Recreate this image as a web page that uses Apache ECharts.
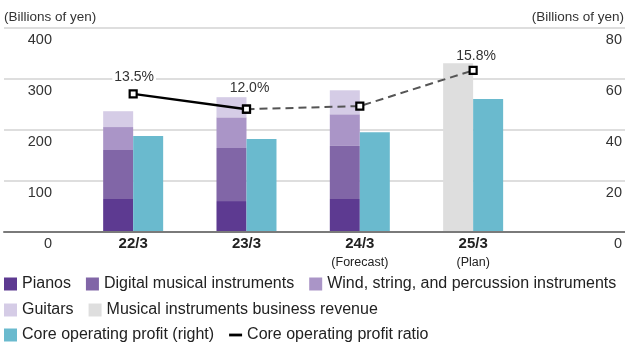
<!DOCTYPE html>
<html>
<head>
<meta charset="utf-8">
<script src="https://cdn.jsdelivr.net/npm/echarts@6/dist/echarts.min.js"></script>
<style>
html,body{margin:0;padding:0;background:#fff;}
#chart{width:625px;height:342px;}
</style>
</head>
<body>
<div id="chart"></div>
<script>
// ---- data ----
const categories = ['22/3', '23/3', '24/3', '25/3'];
const categoryNotes = ['', '', '(Forecast)', '(Plan)'];
const pianos = [64, 60, 64, '-'];
const digital = [96, 104, 104, '-'];
const wind = [45, 60, 62, '-'];
const guitars = [31, 39.5, 47, '-'];
const revenue = ['-', '-', '-', 330];
const coreProfit = [37.5, 36.3, 39, 52];
const ratioActual = [13.5, 12.0, '-', '-'];
const ratioOutlook = ['-', 12.0, 12.3, 15.8];
const ratioLabelShown = [true, true, false, true];
const leftTicks = [0, 100, 200, 300, 400];
const rightTicks = [0, 20, 40, 60, 80];
const unitLabel = '(Billions of yen)';

const FONT = '"Liberation Sans", Arial, sans-serif';
const C = {
  pianos: '#5d3a91', digital: '#8166a7', wind: '#aa95c7', guitars: '#d5cce6',
  revenue: '#dedede', profit: '#6abace'
};

const chart = echarts.init(document.getElementById('chart'), null, {renderer: 'canvas'});

const gridTop = 27.5, gridBottom = 110.3;
const labelOffsets = [[1, 0], [3, -4], [0, 0], [3, 2]];

function ratioData(arr) {
  return arr.map((v, i) => {
    if (v === '-') return v;
    return {
      value: v,
      label: {show: ratioLabelShown[i], offset: labelOffsets[i]}
    };
  });
}

const ratioLabel = {
  show: false, position: 'top', distance: 5,
  formatter: p => Number(p.value).toFixed(1) + '%',
  color: '#333', fontSize: 14, fontFamily: FONT,
  backgroundColor: '#fff', padding: [0, 2]
};

const legendBase = {
  left: 4, width: 640, padding: 0, itemWidth: 13, itemHeight: 13, itemGap: 15, icon: 'rect',
  textStyle: {fontSize: 16, color: '#222', fontFamily: FONT}
};

const option = {
  animation: false,
  backgroundColor: '#fff',
  textStyle: {fontFamily: FONT},
  grid: [
    {left: 4, right: 0, top: gridTop, bottom: gridBottom},
    {left: 76.5, right: 95.2, top: gridTop, bottom: gridBottom}
  ],
  xAxis: [
    {gridIndex: 0, type: 'category', data: [''], axisTick: {show: false},
     axisLabel: {show: false}, axisLine: {lineStyle: {color: '#7a7a7a', width: 2}}, z: 5},
    {gridIndex: 1, type: 'category', data: categories.map((c, i) => categoryNotes[i] ? c + '\n' + categoryNotes[i] : c),
     axisTick: {show: false}, axisLine: {show: false},
     axisLabel: {
       margin: 4, verticalAlign: 'top',
       formatter: v => {
         const parts = v.split('\n');
         return parts.length > 1 ? '{a|' + parts[0] + '}\n{b|' + parts[1] + '}' : '{a|' + parts[0] + '}';
       },
       rich: {
         a: {fontSize: 15, fontWeight: 'bold', color: '#222', lineHeight: 17, fontFamily: FONT},
         b: {fontSize: 12.5, color: '#222', lineHeight: 19, fontFamily: FONT}
       }
     }}
  ],
  yAxis: [
    {gridIndex: 0, type: 'value', position: 'left', min: leftTicks[0], max: leftTicks[leftTicks.length - 1],
     interval: leftTicks[1] - leftTicks[0],
     axisLine: {show: false}, axisTick: {show: false},
     splitLine: {lineStyle: {color: '#dedede', width: 2}},
     axisLabel: {inside: true, align: 'right', margin: 48, verticalAlign: 'top', padding: [5, 0, 0, 0],
                 lineHeight: 15, fontSize: 14.5, color: '#333', fontFamily: FONT}},
    {gridIndex: 0, type: 'value', position: 'right', min: rightTicks[0], max: rightTicks[rightTicks.length - 1],
     interval: rightTicks[1] - rightTicks[0],
     axisLine: {show: false}, axisTick: {show: false}, splitLine: {show: false},
     axisLabel: {inside: true, align: 'right', margin: 3, verticalAlign: 'top', padding: [5, 0, 0, 0],
                 lineHeight: 15, fontSize: 14.5, color: '#333', fontFamily: FONT}},
    {gridIndex: 1, type: 'value', min: 0, max: 400, show: false},
    {gridIndex: 1, type: 'value', min: 0, max: 80, show: false},
    {gridIndex: 1, type: 'value', min: 0, max: 20, show: false}
  ],
  legend: [
    Object.assign({}, legendBase, {top: 276,
     data: ['Pianos', 'Digital musical instruments', 'Wind, string, and percussion instruments']}),
    Object.assign({}, legendBase, {top: 302,
     data: ['Guitars', 'Musical instruments business revenue']}),
    Object.assign({}, legendBase, {top: 327,
     data: ['Core operating profit (right)',
            {name: 'Core operating profit ratio', icon: 'path://M0,0H14V3H0Z', itemStyle: {color: '#000', borderWidth: 0}}]})
  ],
  graphic: [
    {type: 'text', left: 4, top: 10, style: {text: unitLabel, font: '13.5px ' + FONT, fill: '#333'}},
    {type: 'text', right: 1, top: 10, style: {text: unitLabel, font: '13.5px ' + FONT, fill: '#333'}}
  ],
  series: [
    {name: 'Pianos', type: 'bar', xAxisIndex: 1, yAxisIndex: 2, stack: 'rev', data: pianos,
     barWidth: 30, barGap: '0%', itemStyle: {color: C.pianos}},
    {name: 'Digital musical instruments', type: 'bar', xAxisIndex: 1, yAxisIndex: 2, stack: 'rev', data: digital,
     barWidth: 30, barGap: '0%', itemStyle: {color: C.digital}},
    {name: 'Wind, string, and percussion instruments', type: 'bar', xAxisIndex: 1, yAxisIndex: 2, stack: 'rev', data: wind,
     barWidth: 30, barGap: '0%', itemStyle: {color: C.wind}},
    {name: 'Guitars', type: 'bar', xAxisIndex: 1, yAxisIndex: 2, stack: 'rev', data: guitars,
     barWidth: 30, barGap: '0%', itemStyle: {color: C.guitars}},
    {name: 'Musical instruments business revenue', type: 'bar', xAxisIndex: 1, yAxisIndex: 2, stack: 'rev', data: revenue,
     barWidth: 30, barGap: '0%', itemStyle: {color: C.revenue}},
    {name: 'Core operating profit (right)', type: 'bar', xAxisIndex: 1, yAxisIndex: 3, data: coreProfit,
     barWidth: 30, barGap: '0%', itemStyle: {color: C.profit}},
    {name: 'Core operating profit ratio', type: 'line', xAxisIndex: 1, yAxisIndex: 4, data: ratioData(ratioOutlook),
     z: 10, symbol: 'rect', symbolSize: 7, showAllSymbol: true,
     lineStyle: {color: '#555', width: 2, type: [8, 5]},
     itemStyle: {color: '#fff', borderColor: '#000', borderWidth: 2.2},
     label: ratioLabel},
    {name: 'Core operating profit ratio', type: 'line', xAxisIndex: 1, yAxisIndex: 4, data: ratioData(ratioActual),
     z: 11, symbol: 'rect', symbolSize: 7, showAllSymbol: true,
     lineStyle: {color: '#000', width: 2.5},
     itemStyle: {color: '#fff', borderColor: '#000', borderWidth: 2.2},
     label: ratioLabel}
  ]
};
chart.setOption(option);
</script>
</body>
</html>
